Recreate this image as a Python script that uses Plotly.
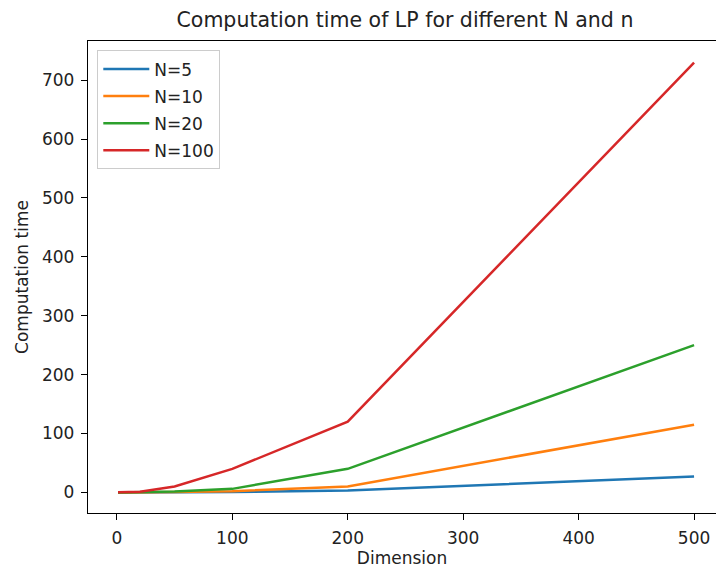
import plotly.graph_objects as go

# Problem dimension n and measured LP solve times for each N
dimension = [1, 20, 50, 100, 200, 500]
time_n5 = [0.0, 0.05, 0.2, 0.5, 3, 27]
time_n10 = [0.0, 0.1, 0.5, 2, 10, 115]
time_n20 = [0.0, 0.3, 1.5, 6, 40, 250]
time_n100 = [0.1, 1, 10, 40, 120, 730]

series_names = ["N=5", "N=10", "N=20", "N=100"]
series_values = [time_n5, time_n10, time_n20, time_n100]
colors = ["#1f77b4", "#ff7f0e", "#2ca02c", "#d62728"]

x_ticks = [0, 100, 200, 300, 400, 500]
y_ticks = [0, 100, 200, 300, 400, 500, 600, 700]

font_family = "DejaVu Sans, Liberation Sans, sans-serif"
text_color = "#222222"

fig = go.Figure()
for name, vals, col in zip(series_names, series_values, colors):
    fig.add_trace(go.Scatter(
        x=dimension, y=vals, mode="lines", name=name,
        legendgroup=name,
        line=dict(color=col, width=2.5),
    ))

axis_common = dict(
    showgrid=False, zeroline=False,
    showline=True, linecolor="black", linewidth=1.3,
    ticks="outside", ticklen=6, tickwidth=1.3, tickcolor="black",
    tickfont=dict(family=font_family, size=17, color=text_color),
    ticklabelstandoff=3,
)

fig.update_layout(
    width=716, height=571,
    margin=dict(l=88, r=0, t=41, b=58),
    paper_bgcolor="white", plot_bgcolor="white",
    title=dict(
        text="Computation time of LP for different N and n",
        x=0.5656, xanchor="center", y=0.965, yanchor="middle",
        font=dict(family=font_family, size=20.5, color=text_color),
    ),
    xaxis=dict(
        range=[-25, 519], tickvals=x_ticks, mirror=True,
        title=dict(text="Dimension", standoff=4,
                   font=dict(family=font_family, size=17, color=text_color)),
        **axis_common,
    ),
    yaxis=dict(
        range=[-35, 766.6], tickvals=y_ticks, mirror=False,
        title=dict(text="Computation time", standoff=9,
                   font=dict(family=font_family, size=17, color=text_color)),
        **axis_common,
    ),
    legend=dict(
        x=0.0148, y=0.98, xanchor="left", yanchor="top",
        bgcolor="rgba(255,255,255,0.8)", bordercolor="#cccccc", borderwidth=1,
        font=dict(family=font_family, size=17, color=text_color),
        tracegroupgap=2, itemwidth=46,
    ),
    showlegend=True,
)

fig.write_html("out.html")
